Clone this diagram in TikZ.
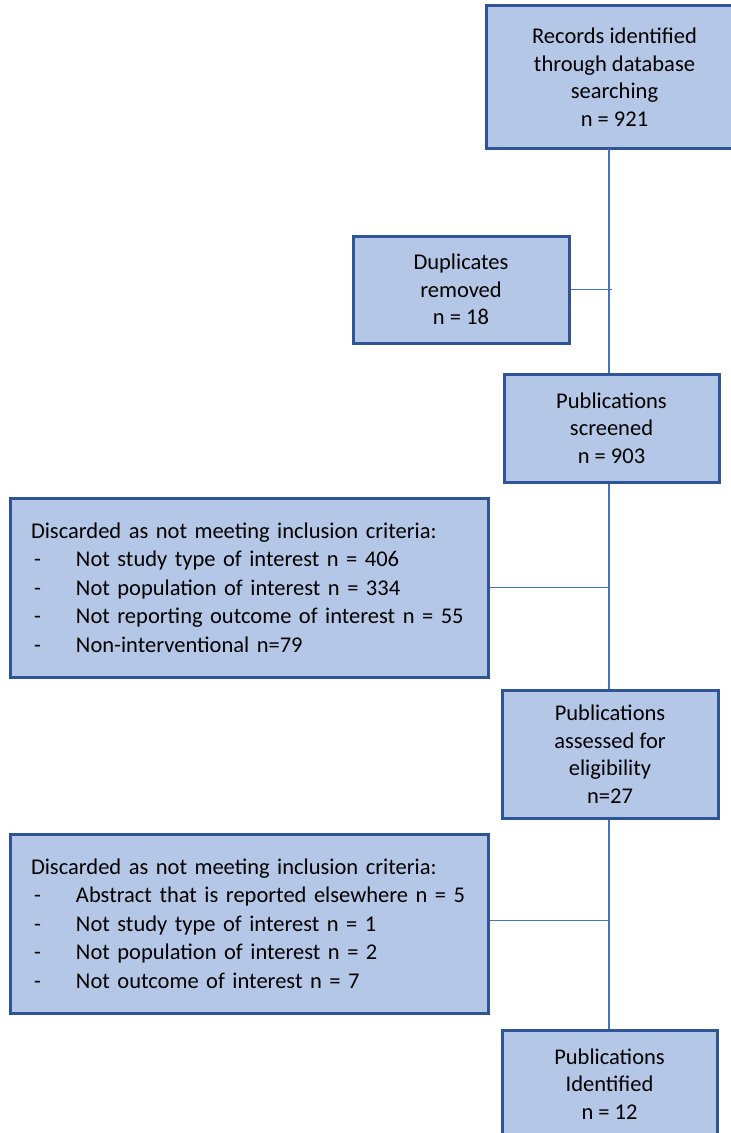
\documentclass[tikz,border=0pt]{standalone}
\usepackage{fontspec}
\setmainfont{Carlito}
\definecolor{boxfill}{HTML}{B4C7E7}
\definecolor{boxedge}{HTML}{2F5597}
\definecolor{linkblue}{HTML}{4472C4}
\begin{document}
\begin{tikzpicture}[x=1pt,y=-1pt,
  flowbox/.style={draw=boxedge, fill=boxfill, line width=3pt, rectangle,
    inner sep=0pt, align=center, font=\fontsize{22.5}{27.5}\selectfont},
  listbox/.style={draw=boxedge, fill=boxfill, line width=3pt, rectangle,
    inner xsep=20pt, inner ysep=0pt, align=left, text width=436pt,
    minimum width=478pt, minimum height=179pt,
    font=\fontsize{22.5}{28.5}\selectfont},
  link/.style={draw=linkblue, line width=1.2pt}]
\useasboundingbox (0,0) rectangle (731,1133);
\clip (0,0) rectangle (731,1133);
\fill[white] (0,0) rectangle (731,1133);

% main column; the top box runs past the right margin, so its
% outline is drawn on three sides only
\node[flowbox, draw=none, minimum width=254pt, minimum height=140pt, anchor=west] (rec) at (486,77)
  {Records identified\\through database\\searching\\n = 921};
\draw[boxedge, line width=3pt] (rec.north east) -- (rec.north west)
  -- (rec.south west) -- (rec.south east);
\node[flowbox, minimum width=216pt, minimum height=107pt] (dup) at (461,289.5)
  {Duplicates\\removed\\n = 18};
\node[flowbox, minimum width=215pt, minimum height=108pt] (scr) at (611.5,428)
  {Publications\\screened\\n = 903};
\node[listbox] (dis1) at (249,587.5)
  {Discarded as not meeting inclusion criteria:\\
   \hspace*{3pt}\makebox[42pt][l]{-}Not study type of interest n = 406\\
   \hspace*{3pt}\makebox[42pt][l]{-}Not population of interest n = 334\\
   \hspace*{3pt}\makebox[42pt][l]{-}Not reporting outcome of interest n = 55\\
   \hspace*{3pt}\makebox[42pt][l]{-}Non-interventional n=79};
\node[flowbox, minimum width=216pt, minimum height=128pt] (ass) at (610,754)
  {Publications\\assessed for\\eligibility\\n=27};
\node[listbox] (dis2) at (249,923.5)
  {Discarded as not meeting inclusion criteria:\\
   \hspace*{3pt}\makebox[42pt][l]{-}Abstract that is reported elsewhere n = 5\\
   \hspace*{3pt}\makebox[42pt][l]{-}Not study type of interest n = 1\\
   \hspace*{3pt}\makebox[42pt][l]{-}Not population of interest n = 2\\
   \hspace*{3pt}\makebox[42pt][l]{-}Not outcome of interest n = 7};
\node[flowbox, minimum width=215pt, minimum height=108pt] (idn) at (609.5,1084)
  {Publications\\Identified\\n = 12};

% trunk line and side branches
\coordinate (trunk) at (609,0);
\draw[link] (rec.south -| trunk) -- (scr.north -| trunk);
\draw[link] (scr.south -| trunk) -- (ass.north -| trunk);
\draw[link] (ass.south -| trunk) -- (idn.north -| trunk);
\draw[link] (dup.east) -- ([xshift=3pt]dup.east -| trunk);
\draw[link] (dis1.east) -- (dis1.east -| trunk);
\draw[link] ([yshift=3pt]dis2.east) -- ([yshift=3pt]dis2.east -| trunk);
\end{tikzpicture}
\end{document}
